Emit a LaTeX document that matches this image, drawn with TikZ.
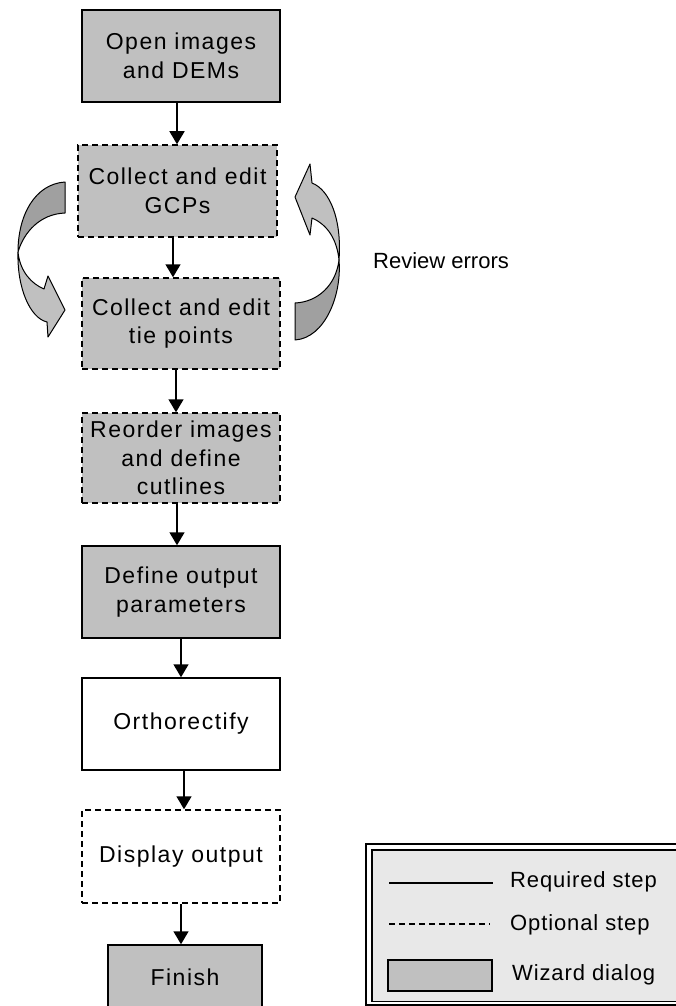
\documentclass[tikz,border=0pt]{standalone}
\usepackage{fontspec}
\setmainfont{Liberation Sans}
\newfontfamily\boxfont[LetterSpace=6.5]{Liberation Sans}
\newfontfamily\legfont[LetterSpace=4]{Liberation Sans}
\usetikzlibrary{arrows.meta}
\definecolor{wizgray}{HTML}{C0C0C0}
\definecolor{dkgray}{HTML}{A0A0A0}
\definecolor{legbg}{HTML}{E8E8E8}
\tikzset{
  stepbox/.style={draw=black, line width=1.5pt, minimum width=198pt, minimum height=92pt,
    align=center, inner sep=0pt, font=\boxfont\fontsize{23}{28.5}\selectfont},
  wiz/.style={fill=wizgray},
  plain/.style={fill=white},
  optional/.style={dash pattern=on 6pt off 4pt},
  arr/.style={line width=1.5pt, -{Triangle[length=13pt,width=15pt]}},
  ribbon/.style={draw=black, line width=1pt, line join=round},
  legtext/.style={anchor=base west, inner sep=0pt, font=\legfont\fontsize{22}{26}\selectfont},
}
\begin{document}
\begin{tikzpicture}[x=1pt,y=-1pt]
\clip (0,0) rectangle (676,1006);
\fill[white] (0,0) rectangle (676,1006);

% steps
\node[stepbox, wiz] (open) at (181,56) {Open images\\and DEMs};
\node[stepbox, wiz, optional, minimum width=199pt] (gcp) at (177.5,191) {Collect and edit\\GCPs};
\node[stepbox, wiz, optional, minimum height=91pt] (tie) at (181,323.5) {Collect and edit\\tie points};
\node[stepbox, wiz, optional, minimum height=90pt] (reorder) at (181,458) {Reorder images\\and define\\cutlines};
\node[stepbox, wiz] (define) at (181,592) {Define output\\parameters};
\node[stepbox, plain] (ortho) at (181,724) {Orthorectify};
\node[stepbox, plain, optional, minimum height=93pt] (display) at (181,856.5) {Display output};
\node[stepbox, wiz, minimum width=154pt, minimum height=64pt] (finish) at (185,977) {Finish};

% connectors
\draw[arr] ([xshift=-4pt]open.south) -- ([xshift=-4pt]open.south |- gcp.north);
\draw[arr] ([xshift=-4.5pt]gcp.south) -- ([xshift=-4.5pt]gcp.south |- tie.north);
\draw[arr] ([xshift=-5pt]tie.south) -- ([xshift=-5pt]tie.south |- reorder.north);
\draw[arr] ([xshift=-4pt]reorder.south) -- ([xshift=-4pt]reorder.south |- define.north);
\draw[arr] (define.south) -- (define.south |- ortho.north);
\draw[arr] ([xshift=3pt]ortho.south) -- ([xshift=3pt]ortho.south |- display.north);
\draw[arr] (display.south) -- (display.south |- finish.north);

% left curved arrow
\filldraw[ribbon, fill=dkgray] (65,182) .. controls (35,184) and (18,215) .. (18,252)
  .. controls (24,232) and (40,214) .. (65,213) -- cycle;
\filldraw[ribbon, fill=wizgray] (18,252) .. controls (17,288) and (30,318) .. (47,322)
  -- (48,337) -- (65,310) -- (48,276) -- (44,289)
  .. controls (32,284) and (20,272) .. (18,252) -- cycle;

% right curved arrow
\filldraw[ribbon, fill=dkgray] (295,303) .. controls (318,302) and (336,285) .. (339,260)
  .. controls (342,295) and (325,338) .. (295,340) -- cycle;
\filldraw[ribbon, fill=wizgray] (339,260) .. controls (342,220) and (330,190) .. (312,183)
  -- (310,164) -- (295,197) -- (310,235) -- (312,218)
  .. controls (328,225) and (337,240) .. (339,260) -- cycle;

\node[anchor=base west, inner sep=0pt, font=\fontsize{22}{26}\selectfont] (review) at (373,268) {Review errors};

% legend
\draw[line width=1.5pt] (366,844) rectangle (720,1005);
\draw[line width=1.5pt, fill=legbg] (372,850) rectangle (714,1001.5);
\draw[line width=1.5pt] (389,883) -- (493,883);
\draw[line width=1.5pt, dash pattern=on 6pt off 4pt] (389,924) -- (490,924);
\draw[line width=1.5pt, fill=wizgray] (388,960) rectangle (492,991);
\node[legtext] (lreq) at (510,887) {Required step};
\node[legtext] (lopt) at (510,930) {Optional step};
\node[legtext] (lwiz) at (512,980) {Wizard dialog};
\end{tikzpicture}
\end{document}
